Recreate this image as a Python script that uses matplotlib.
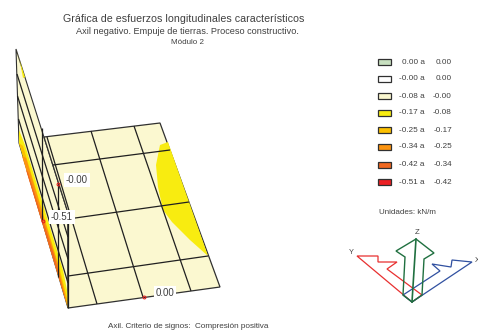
import matplotlib
matplotlib.use("Agg")
import matplotlib.pyplot as plt
from matplotlib.patches import Polygon, Rectangle

plt.rcParams['font.family'] = ['Liberation Sans', 'DejaVu Sans']

# Leyenda
rangos_a = ["0.00 a", "-0.00 a", "-0.08 a", "-0.17 a", "-0.25 a", "-0.34 a", "-0.42 a", "-0.51 a"]
rangos_b = ["0.00", "0.00", "-0.00", "-0.08", "-0.17", "-0.25", "-0.34", "-0.42"]
colores = ["#c8e0c0", "#ffffff", "#fbf8d0", "#f8ec10", "#fcc000", "#fc9410", "#f06820", "#ec2024"]
ley_y = [62, 79, 96, 113, 130, 147, 165, 182]

# Geometria en pixeles de la imagen
muro = [(16, 49), (68, 213), (68, 308), (19, 143)]
losa = [(44, 137), (160, 123), (220, 287), (68, 308), (68, 213)]
mancha = [(168, 142), (160, 145), (156, 165), (158, 187), (163, 210), (172, 222), (190, 240), (208, 256)]

# Bandas de color del muro
banda_sup = [(16, 49), (25, 77), (23, 78), (20, 62)]
banda_am = [(19, 130), (25, 145), (63, 270), (68, 295), (68, 308), (19, 143)]
banda_or = [(19, 143), (23, 146), (60, 270), (68, 302), (68, 308)]
banda_na = [(22, 156), (26, 158), (58, 265), (68, 308)]
banda_ro = [(26, 170), (28, 172), (54, 255), (68, 308)]

lineas_losa = [
    ((47, 137), (97, 304)), ((91, 131), (143, 297)), ((134, 126), (191, 291)),
    ((53, 165), (170, 150)), ((68, 219), (189, 202)), ((68, 276), (208, 256)),
]
lineas_muro = [
    ((17, 74), (68, 237)), ((17.5, 96), (68, 259)), ((18.5, 119), (68, 283)),
    ((42, 128), (42, 220)), ((58, 184), (58, 277)), ((68, 213), (68, 308)),
]

# Valores senalados
etiquetas = ["-0.00", "-0.51", "0.00"]
etiq_x = [77, 62, 165]
etiq_y = [180, 217, 293]
nodo_x = [58, 43, 144]
nodo_y = [184, 221, 297]

# Ejes locales
flecha_z = [(403, 295), (405, 257), (396, 251), (416, 239), (434, 253), (424, 259), (422, 295), (412, 302)]
flecha_y = [(412, 302), (357, 256), (378, 256), (378, 262), (397, 262), (387, 269), (422, 295)]
flecha_x = [(412, 302), (472, 262), (452, 260), (451, 267), (432, 264), (440, 271), (403, 295)]

fig = plt.figure(figsize=(4.78, 3.31), dpi=100)
ax = fig.add_axes([0, 0, 1, 1])
ax.set_xlim(0, 478)
ax.set_ylim(331, 0)
ax.axis("off")

gris = "#404040"
ax.text(184, 19, "Gráfica de esfuerzos longitudinales característicos", ha="center", va="center", fontsize=7.65, color=gris)
ax.text(187, 31, "Axil negativo. Empuje de tierras. Proceso constructivo.", ha="center", va="center", fontsize=6.55, color=gris)
ax.text(188, 43, "Módulo 2", ha="center", va="center", fontsize=5.8, color=gris)
ax.text(188, 326, "Axil. Criterio de signos:  Compresión positiva", ha="center", va="center", fontsize=5.9, color=gris)

ax.add_patch(Polygon(muro, fc=colores[2], ec="#303030", lw=0.8))
ax.add_patch(Polygon(banda_sup, fc=colores[3], ec="none"))
ax.add_patch(Polygon(banda_am, fc=colores[3], ec="none"))
ax.add_patch(Polygon(banda_or, fc=colores[4], ec="none"))
ax.add_patch(Polygon(banda_na, fc=colores[5], ec="none"))
ax.add_patch(Polygon(banda_ro, fc=colores[6], ec="none"))
ax.add_patch(Polygon(losa, fc=colores[2], ec="#303030", lw=0.9))
ax.add_patch(Polygon(mancha, fc=colores[3], ec="none"))
for p, q in lineas_muro + lineas_losa:
    ax.plot([p[0], q[0]], [p[1], q[1]], color="#202020", lw=0.9, solid_capstyle="butt")

for t, x, y, nx, ny in zip(etiquetas, etiq_x, etiq_y, nodo_x, nodo_y):
    ax.text(x, y, t, ha="center", va="center", fontsize=7, color=gris,
            bbox=dict(fc="white", ec="none", pad=1.2))
    ax.plot(nx, ny, "o", ms=2, mfc="none", mec="#e02020", mew=0.8)

for a, b, c, y in zip(rangos_a, rangos_b, colores, ley_y):
    ax.add_patch(Rectangle((378.5, y - 3), 13, 6, fc=c, ec="#303030", lw=0.9))
    ax.text(425, y, a, ha="right", va="center", fontsize=5.9, color=gris)
    ax.text(452, y, b, ha="right", va="center", fontsize=5.9, color=gris)
ax.text(379, 212, "Unidades: kN/m", ha="left", va="center", fontsize=5.8, color=gris)

ax.add_patch(Polygon(flecha_y, fill=False, ec="#e83030", lw=0.9))
ax.add_patch(Polygon(flecha_x, fill=False, ec="#3050a0", lw=0.9))
ax.add_patch(Polygon(flecha_z, fill=False, ec="#207040", lw=1.0))
ax.plot([412, 416], [302, 239], color="#207040", lw=1.2)
ax.text(417, 232, "Z", ha="center", va="center", fontsize=5.6, color=gris)
ax.text(351, 252, "Y", ha="center", va="center", fontsize=5.2, color=gris)
ax.text(477, 260, "X", ha="center", va="center", fontsize=5.2, color=gris)

fig.savefig("out.png", dpi=100)
